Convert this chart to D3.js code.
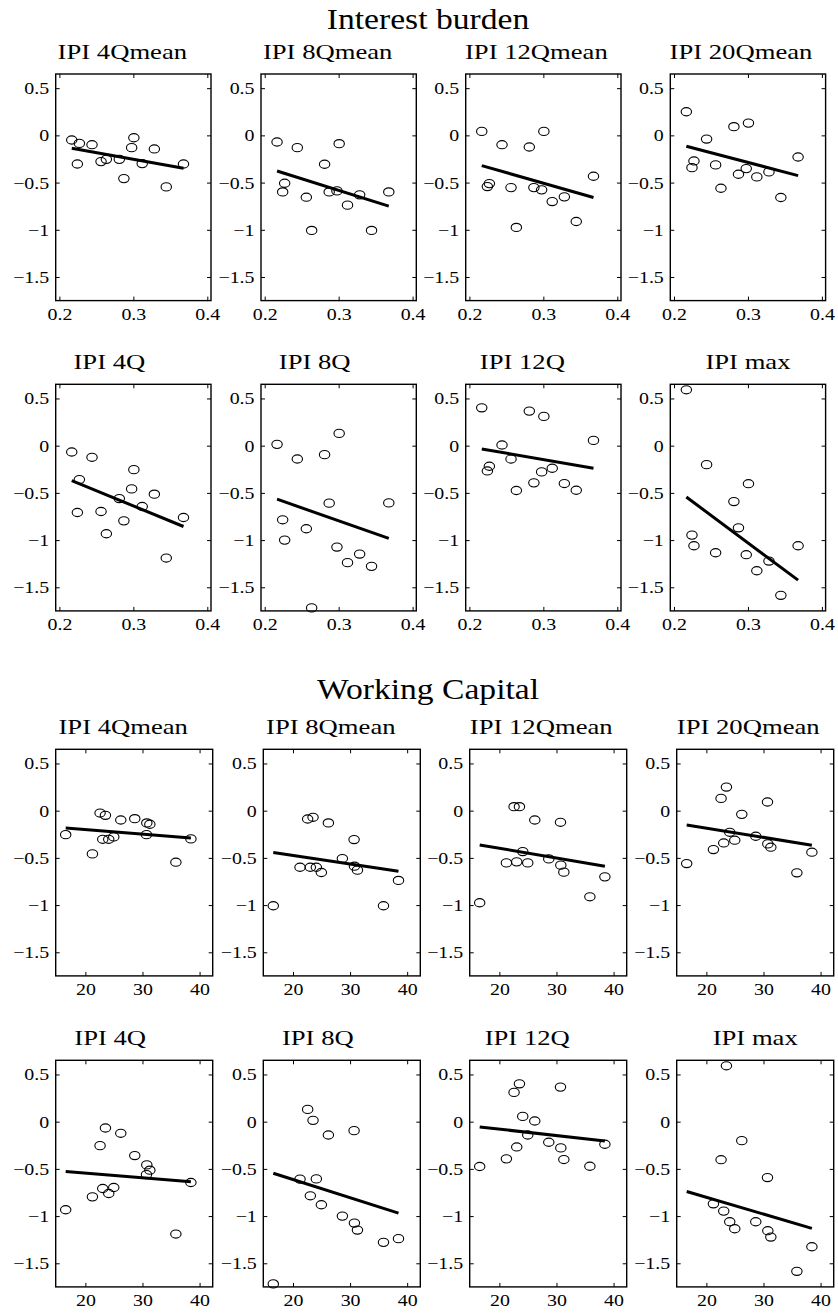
<!DOCTYPE html>
<html>
<head>
<meta charset="utf-8">
<script src="https://cdn.jsdelivr.net/npm/d3@7"></script>
<style>
  body { margin: 0; background: #fff; }
  svg { display: block; background: #fff; }
  svg text { font-family: "Liberation Serif", "Times New Roman", serif; fill: #000; }
</style>
</head>
<body>
<svg id="chart" width="838" height="1316"></svg>
<script>
// Panel titles, one per IPI measure
const measures = ["IPI 4Qmean", "IPI 8Qmean", "IPI 12Qmean", "IPI 20Qmean",
                  "IPI 4Q", "IPI 8Q", "IPI 12Q", "IPI max"];

// Explanatory variables, one value per country (same country order everywhere)
const interestBurden = [0.2167, 0.2243, 0.2270, 0.2441, 0.2563, 0.2635, 0.2810,
                        0.2872, 0.2977, 0.3007, 0.3120, 0.3284, 0.3445, 0.3678];
const workingCapital = [23.51, 23.04, 28.65, 26.20, 24.97, 16.55, 30.70,
                        21.23, 30.76, 22.57, 38.48, 31.29, 35.85, 24.09];

// IPI responses per country
const ipi4Qmean  = [-0.049, -0.303, -0.085, -0.099, -0.278, -0.254, -0.254, -0.458, -0.130, -0.025, -0.299, -0.144, -0.546, -0.303];
const ipi8Qmean  = [-0.070, -0.599, -0.507, -0.130, -0.655, -1.007, -0.306, -0.599, -0.588, -0.088, -0.739, -0.630, -1.007, -0.599];
const ipi12Qmean = [ 0.042, -0.542, -0.511, -0.099, -0.553, -0.975, -0.123, -0.553, -0.577,  0.042, -0.701, -0.651, -0.912, -0.433];
const ipi20Qmean = [ 0.250, -0.342, -0.271, -0.039, -0.313, -0.560,  0.092, -0.412, -0.352,  0.130, -0.440, -0.387, -0.658, -0.229];
const ipi4Q      = [-0.067, -0.708, -0.359, -0.123, -0.697, -0.933, -0.560, -0.796, -0.458, -0.254, -0.644, -0.514, -1.190, -0.761];
const ipi8Q      = [ 0.014, -0.785, -1.000, -0.141, -0.880, -1.718, -0.095, -0.609, -1.074,  0.130, -1.239, -1.148, -1.278, -0.606];
const ipi12Q     = [ 0.401, -0.268, -0.218,  0.007, -0.141, -0.475,  0.366, -0.394, -0.278,  0.310, -0.239, -0.401, -0.472,  0.056];
const ipiMax     = [ 0.592, -0.947, -1.060, -0.201, -1.134,  null,  -0.592, -0.870, -1.155, -0.403, -1.325, -1.222, -1.585, -1.060];

// Fitted regression lines: value at the smallest and at the largest x
const fitInterestStart = [-0.137, -0.377, -0.320, -0.116, -0.370, -0.567, -0.035, -0.544];
const fitInterestEnd   = [-0.349, -0.750, -0.658, -0.426, -0.856, -0.982, -0.239, -1.424];
const fitWorkingStart  = [-0.183, -0.444, -0.363, -0.151, -0.528, -0.546, -0.056, -0.739];
const fitWorkingEnd    = [-0.289, -0.641, -0.588, -0.366, -0.637, -0.968, -0.204, -1.130];

// Axis ticks
const xTicksInterest = [0.2, 0.3, 0.4];
const xTicksWorking  = [20, 30, 40];
const yTicks = [0.5, 0, -0.5, -1, -1.5];
const yDomain = [-1.75, 0.65];

const responses = [ipi4Qmean, ipi8Qmean, ipi12Qmean, ipi20Qmean, ipi4Q, ipi8Q, ipi12Q, ipiMax];

const groups = [
  { title: "Interest burden", xs: interestBurden, xDomain: [0.195, 0.405], xTicks: xTicksInterest,
    fitStart: fitInterestStart, fitEnd: fitInterestEnd,
    titleY: 29, tops: [74, 384.3], lefts: [55.7, 261, 465.7, 670.3], width: 155.3 },
  { title: "Working Capital", xs: workingCapital, xDomain: [14.8, 42.3], xTicks: xTicksWorking,
    fitStart: fitWorkingStart, fitEnd: fitWorkingEnd,
    titleY: 699, tops: [749.3, 1060.3], lefts: [55.7, 263.3, 469.7, 676.7], width: 157 }
];

const panelHeight = 226.6;
const titleShift = [-11, -11, -7, -7, -24, -24, -21, 0];
const tickScale = 1.17, titleScale = 1.3;
const serif = '"Liberation Serif", "Times New Roman", serif';
const fmtY = d3.format("~g"), fmtX = d3.format("~g");

const svg = d3.select("#chart");

groups.forEach(g => {
  svg.append("text")
    .attr("transform", `translate(428,${g.titleY}) scale(1.12,1)`)
    .attr("text-anchor", "middle")
    .attr("font-family", serif)
    .attr("font-size", 30)
    .text(g.title);

  measures.forEach((name, i) => {
    const row = Math.floor(i / 4), col = i % 4;
    const w = g.width, h = panelHeight;
    const px = g.lefts[col], py = g.tops[row];
    const x = d3.scaleLinear().domain(g.xDomain).range([0, w]);
    const y = d3.scaleLinear().domain(yDomain).range([h, 0]);
    const panel = svg.append("g").attr("transform", `translate(${px},${py})`);

    // Panel title
    panel.append("text")
      .attr("transform", `translate(${w / 2 + titleShift[i]},-15) scale(${titleScale},1)`)
      .attr("text-anchor", "middle")
      .attr("font-family", serif)
      .attr("font-size", 20.5)
      .text(name);

    // Axes with inward ticks on all four sides
    const styleAxis = sel => {
      sel.attr("font-family", serif).attr("font-size", 17);
      sel.select(".domain").remove();
      sel.selectAll(".tick line").attr("stroke", "#000").attr("stroke-width", 1);
    };
    panel.append("g").attr("transform", `translate(0,${h})`)
      .call(d3.axisBottom(x).tickValues(g.xTicks).tickSizeInner(-4).tickSizeOuter(0).tickPadding(7).tickFormat(fmtX))
      .call(styleAxis)
      .call(a => a.selectAll("text").attr("fill", "#000")
        .attr("transform", `scale(${tickScale},1)`));
    panel.append("g")
      .call(d3.axisTop(x).tickValues(g.xTicks).tickSizeInner(-4).tickSizeOuter(0).tickFormat(""))
      .call(styleAxis);
    panel.append("g")
      .call(d3.axisLeft(y).tickValues(yTicks).tickSizeInner(-4).tickSizeOuter(0).tickFormat(fmtY))
      .call(styleAxis)
      .call(a => a.selectAll("text").attr("fill", "#000")
        .attr("x", -6.5 / tickScale).attr("transform", `scale(${tickScale},1)`));
    panel.append("g").attr("transform", `translate(${w},0)`)
      .call(d3.axisRight(y).tickValues(yTicks).tickSizeInner(-4).tickSizeOuter(0).tickFormat(""))
      .call(styleAxis);

    panel.append("rect")
      .attr("width", w).attr("height", h)
      .attr("fill", "none").attr("stroke", "#000").attr("stroke-width", 1.4);

    // Scatter points
    const pts = g.xs.map((xv, k) => ({ x: xv, y: responses[i][k] }))
      .filter(d => d.y !== null && d.y >= yDomain[0] && d.y <= yDomain[1]);
    panel.selectAll("ellipse.pt").data(pts).join("ellipse")
      .attr("class", "pt")
      .attr("cx", d => x(d.x)).attr("cy", d => y(d.y))
      .attr("rx", 5.2).attr("ry", 4.1)
      .attr("fill", "none").attr("stroke", "#000").attr("stroke-width", 1.1);

    // Regression line
    const [xmin, xmax] = d3.extent(g.xs);
    panel.append("line")
      .attr("x1", x(xmin)).attr("y1", y(g.fitStart[i]))
      .attr("x2", x(xmax)).attr("y2", y(g.fitEnd[i]))
      .attr("stroke", "#000").attr("stroke-width", 3);
  });
});
</script>
</body>
</html>
